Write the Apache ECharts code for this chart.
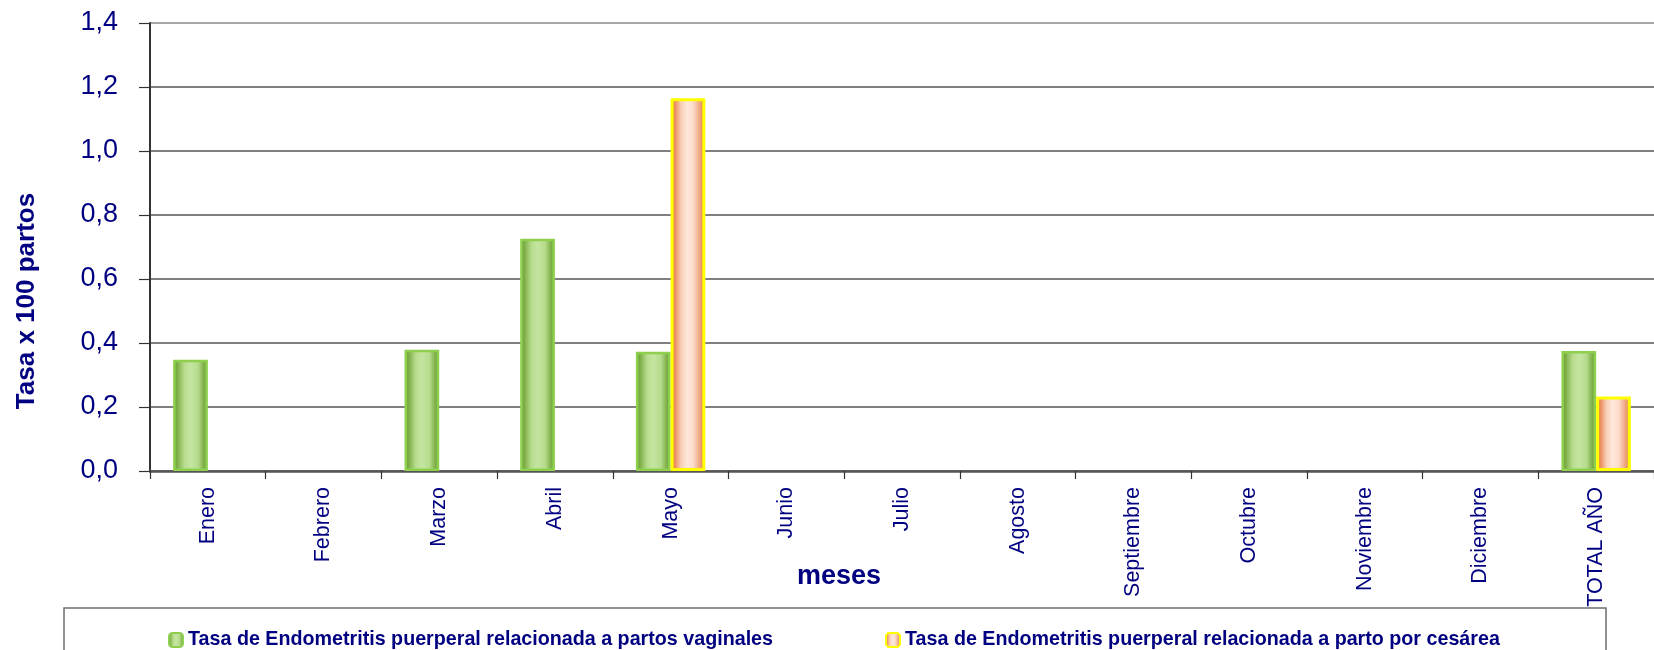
<!DOCTYPE html>
<html>
<head>
<meta charset="utf-8">
<script src="https://cdn.jsdelivr.net/npm/echarts@6/dist/echarts.min.js"></script>
<style>
  html, body { margin: 0; padding: 0; background: #ffffff; }
  #chart { width: 1654px; height: 650px; }
</style>
</head>
<body>
<div id="chart"></div>
<script>
// Months on the category axis
const meses = ['Enero', 'Febrero', 'Marzo', 'Abril', 'Mayo', 'Junio', 'Julio',
  'Agosto', 'Septiembre', 'Octubre', 'Noviembre', 'Diciembre', 'TOTAL AÑO'];

// Rate per 100 deliveries
const tasaVaginal = [0.348, 0, 0.379, 0.726, 0.373, 0, 0, 0, 0, 0, 0, 0, 0.375];
const tasaCesarea = [0, 0, 0, 0, 1.165, 0, 0, 0, 0, 0, 0, 0, 0.233];

const serieVaginal = 'Tasa de Endometritis puerperal relacionada a partos vaginales';
const serieCesarea = 'Tasa de Endometritis puerperal relacionada a parto por cesárea';

const yMin = 0, yMax = 1.4, yStep = 0.2;

const NAVY = '#000080';
const FONT = '"Liberation Sans", Arial, sans-serif';

// months without cases draw no bar at all
const sinCero = arr => arr.map(v => (v === 0 ? null : v));

const gradVerde = new echarts.graphic.LinearGradient(0, 0, 1, 0, [
  { offset: 0, color: '#67982f' },
  { offset: 0.12, color: '#7dad46' },
  { offset: 0.32, color: '#b7dc8d' },
  { offset: 0.5, color: '#c4e5a0' },
  { offset: 0.72, color: '#b6db8c' },
  { offset: 0.88, color: '#80b04a' },
  { offset: 1, color: '#6c9c36' }
]);

const gradNaranja = new echarts.graphic.LinearGradient(0, 0, 1, 0, [
  { offset: 0, color: '#e26a28' },
  { offset: 0.1, color: '#ea8450' },
  { offset: 0.3, color: '#f8cfb7' },
  { offset: 0.47, color: '#fde7db' },
  { offset: 0.65, color: '#fbdcca' },
  { offset: 0.85, color: '#eea27a' },
  { offset: 1, color: '#e47a44' }
]);

const chart = echarts.init(document.getElementById('chart'), null, { renderer: 'canvas' });

chart.setOption({
  backgroundColor: '#ffffff',
  animation: false,
  grid: { left: 150, top: 23, width: 1508, height: 448, containLabel: false },
  legend: {
    left: 168,
    top: 630,
    padding: 0,
    itemWidth: 14,
    itemHeight: 14,
    itemGap: 112,
    textStyle: { color: NAVY, fontWeight: 'bold', fontSize: 19.7, fontFamily: FONT },
    data: [serieVaginal, serieCesarea]
  },
  xAxis: {
    type: 'category',
    data: meses,
    axisLine: { lineStyle: { color: '#555555', width: 2.5 } },
    axisTick: { show: true, alignWithLabel: false, length: 8, lineStyle: { color: '#333333', width: 1.2 } },
    axisLabel: {
      interval: 0,
      rotate: 90,
      margin: 16,
      color: NAVY,
      fontSize: 21.5,
      fontFamily: FONT
    },
    splitLine: { show: false }
  },
  yAxis: {
    type: 'value',
    min: yMin,
    max: yMax,
    interval: yStep,
    axisLine: { show: true, lineStyle: { color: '#333333', width: 2 } },
    axisTick: { show: true, length: 11, lineStyle: { color: '#333333', width: 1.2 } },
    axisLabel: {
      margin: 32,
      color: NAVY,
      fontSize: 27,
      fontFamily: FONT,
      formatter: v => v.toFixed(1).replace('.', ',')
    },
    splitLine: {
      show: true,
      lineStyle: {
        color: ['#555555', '#555555', '#555555', '#555555', '#555555', '#555555', '#555555', '#8c8c8c'],
        width: 1.6
      }
    }
  },
  series: [
    {
      name: serieVaginal,
      type: 'bar',
      data: sinCero(tasaVaginal),
      barGap: '0%',
      barCategoryGap: '40%',
      itemStyle: { color: gradVerde, borderColor: '#8ed04e', borderWidth: 2.5 }
    },
    {
      name: serieCesarea,
      type: 'bar',
      data: sinCero(tasaCesarea),
      barGap: '0%',
      barCategoryGap: '40%',
      itemStyle: { color: gradNaranja, borderColor: '#ffff00', borderWidth: 3 }
    }
  ],
  graphic: [
    {
      type: 'text',
      x: 27,
      y: 301,
      rotation: Math.PI / 2,
      style: {
        text: 'Tasa x 100 partos',
        fill: NAVY,
        font: 'bold 26px ' + FONT,
        align: 'center',
        verticalAlign: 'middle'
      }
    },
    {
      type: 'text',
      x: 839,
      y: 577,
      style: {
        text: 'meses',
        fill: NAVY,
        font: 'bold 27px ' + FONT,
        align: 'center',
        verticalAlign: 'middle'
      }
    },
    {
      type: 'rect',
      z: -1,
      shape: { x: 64, y: 608, width: 1542, height: 60 },
      style: { fill: '#ffffff', stroke: '#6e6e6e', lineWidth: 1.5 }
    }
  ]
});
</script>
</body>
</html>
